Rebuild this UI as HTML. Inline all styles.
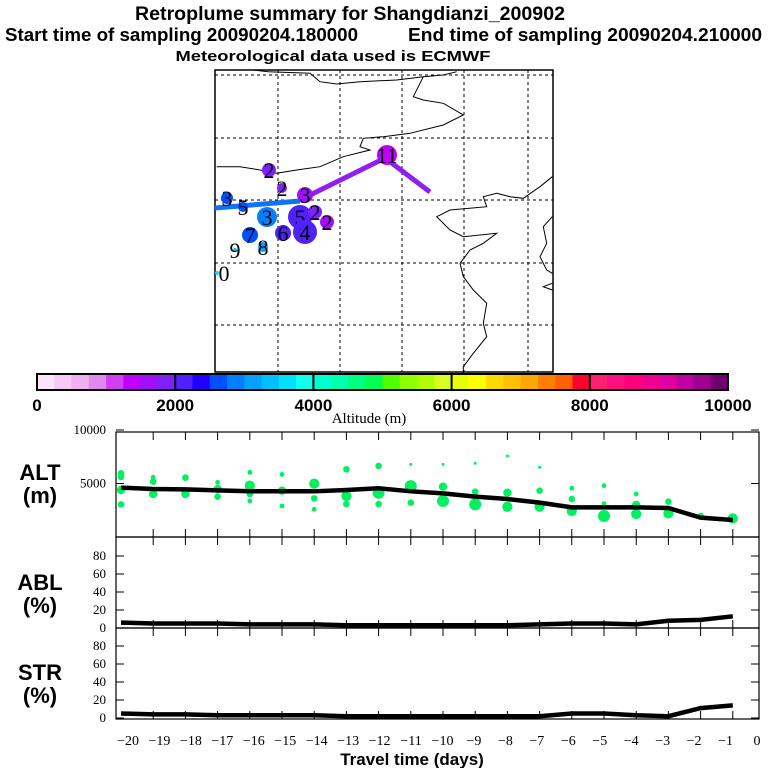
<!DOCTYPE html>
<html><head><meta charset="utf-8"><style>
body{margin:0;background:#fff}
svg{display:block;font-family:"Liberation Sans",sans-serif}
</style></head><body>
<svg id="chart" width="768" height="768" viewBox="0 0 768 768">
<g font-weight="bold" fill="#000">
<text x="350" y="20" font-size="19" text-anchor="middle" textLength="430" lengthAdjust="spacingAndGlyphs">Retroplume summary for Shangdianzi_200902</text>
<text x="5" y="41" font-size="18" textLength="353" lengthAdjust="spacingAndGlyphs">Start time of sampling 20090204.180000</text>
<text x="408" y="41" font-size="18" textLength="354" lengthAdjust="spacingAndGlyphs">End time of sampling 20090204.210000</text>
<text x="333" y="61" font-size="15" text-anchor="middle" textLength="315" lengthAdjust="spacingAndGlyphs">Meteorological data used is ECMWF</text>
</g>
<g id="map"></g>
<g id="cbar"></g>
<g id="panels"></g>
</svg>
<script>
const NS="http://www.w3.org/2000/svg";
function mk(tag,attrs,parent){const e=document.createElementNS(NS,tag);for(const k in attrs)e.setAttribute(k,attrs[k]);parent.appendChild(e);return e;}

// ---------- colour scale ----------
const colorbarColors=["#fde4fa","#f5c8f5","#f0b0f0","#e088f0","#d040f0","#c000ff","#a010f8","#8020ff",
"#5020ff","#2000ff","#0050ff","#0080ff","#00a0ff","#00c0ff","#00e0ff","#10fff0",
"#00ffd0","#00ffb0","#00ff80","#00ff50","#50ff00","#90ff00","#b0ff00","#d8ff20",
"#e8ff00","#ffff00","#ffd800","#ffc000","#ffa800","#ff8000","#ff6000","#ff0030",
"#ff2070","#ff1080","#ff0080","#f00090","#e000a0","#c000a0","#a00090","#700070"];
const colorbarTicks=[0,2000,4000,6000,8000,10000];

// ---------- map data ----------
const mapLonTicks=[0,1,2,3,4];
const mapLatTicks=[0,1,2,3,4];
const plumeLabels=["2","2","3","3","5","3","7","8","9","0","5","4","6","2","2","11"];
const plumeLon=[269,282,305,227,243,267,250,263,235,217,300,305,283,315,327,387];
const plumeLat=[170,188,195,198,207,217,235,247,250,273,217,232,233,212,222,155];
const plumeSize=[7,5,8,6,5,10,8,5,2,2,12,12,8,7,7,10];
const plumeAlt=[1900,1900,1600,2700,2700,2900,2600,3000,3300,3500,2100,2200,2100,1800,1700,1400];

// ---------- time panels data ----------
const days=[-20,-19,-18,-17,-16,-15,-14,-13,-12,-11,-10,-9,-8,-7,-6,-5,-4,-3,-2,-1];
const altMean=[4610,4490,4455,4360,4270,4270,4270,4390,4550,4270,4080,3770,3550,3210,2770,2770,2770,2710,1810,1590];
const ablPct=[6,5,5,5,4,4,4,3,3,3,3,3,3,4,5,5,4,8,9,13];
const strPct=[5,4,4,3,3,3,3,2,2,2,2,2,2,2,5,5,3,2,11,14];
const dotDay=[-20,-20,-20,-20,-19,-19,-19,-18,-18,-17,-17,-17,-16,-16,-16,-16,-15,-15,-15,-14,-14,-14,-13,-13,-13,-12,-12,-12,-11,-11,-11,-10,-10,-10,-9,-9,-9,-8,-8,-8,-7,-7,-7,-6,-6,-6,-5,-5,-5,-4,-4,-4,-3,-3,-2,-1];
const dotAlt=[5950,5600,4390,3050,5580,5170,4020,5550,4020,5110,4480,3770,6040,4800,4020,3370,5850,4330,2900,4990,3610,2590,6330,3830,3080,6640,4140,3080,6790,4760,3210,6790,4700,3370,6890,4240,3050,7570,4140,2830,6520,4330,2830,4550,3550,2430,4800,3120,1960,4020,3000,2150,3300,2210,1960,1740];
const dotSize=[3,3,4,3,2,3,4,3,4,2,4,3,2,5,3,2,2,4,2,5,3,2,3,5,3,3,6,3,1,6,3,1,4,6,1,3,6,1,4,5,1,3,5,2,3,5,2,2,6,2,4,5,3,5,3,5];
const xTickLabels=["-20","-19","-18","-17","-16","-15","-14","-13","-12","-11","-10","-9","-8","-7","-6","-5","-4","-3","-2","-1","0"];
const altTicks=[0,5000,10000];
const pctTicks=[0,20,40,60,80];

// ---------- map ----------
const map=document.getElementById('map');
const MX0=215,MX1=553,MY0=70,MY1=372;
const gx=[278,340,402,464,528], gy=[75,138,200,263,325];
mapLonTicks.forEach(i=>{const l=mk('line',{x1:gx[i],x2:gx[i],y1:MY0,y2:MY1,stroke:'#000','stroke-width':1,'stroke-dasharray':'3,3'},map);
});
mapLatTicks.forEach(i=>{const l=mk('line',{x1:MX0,x2:MX1,y1:gy[i],y2:gy[i],stroke:'#000','stroke-width':1,'stroke-dasharray':'3,3'},map);
});
function zp(pts){return pts.map(p=>(p[0]/3+210).toFixed(1)+','+(p[1]/3+70).toFixed(1)).join(' ');}
const coasts=[
[[130,0],[175,5],[300,10],[330,35],[380,42],[450,35],[560,30],[640,20],[700,15],[740,5]],
[[640,20],[610,80],[640,90],[700,100],[760,135],[700,165],[600,190],[520,200],[460,205],[450,230],[480,240],[400,260],[330,290],[260,300],[200,310],[150,300],[90,290],[20,290]],
[[1027,320],[990,350],[940,385],[900,380],[860,370],[820,380],[830,410],[720,420],[680,440],[720,480],[760,500],[860,490],[820,520],[780,540],[750,580],[760,620],[790,660],[830,700],[820,760],[830,800],[790,850],[760,890],[760,930]],
[[1027,440],[1000,470],[1010,520],[990,560],[1010,600],[1027,610]],
[[1027,640],[1000,650],[1027,660]]];
coasts.forEach(c=>{const p=mk('polyline',{points:zp(c),fill:'none',stroke:'#000','stroke-width':1},map);
});
const fr=mk('rect',{x:MX0,y:MY0,width:MX1-MX0,height:MY1-MY0,fill:'none',stroke:'#000','stroke-width':1.5},map);

function altColor(a){return colorbarColors[Math.max(0,Math.min(39,Math.floor(a/250)))];}
const t1=mk('polyline',{points:'215,208 300,201',stroke:'#1070ff','stroke-width':5,fill:'none'},map);

const t2=mk('polyline',{points:'300,200 385,158 430,192',stroke:'#9020f0','stroke-width':5,fill:'none'},map);

plumeLabels.forEach((lab,i)=>{
  const c=mk('circle',{cx:plumeLon[i],cy:plumeLat[i],r:plumeSize[i],fill:altColor(plumeAlt[i])},map);
  
  const t=mk('text',{x:plumeLon[i]+(i==9?7:0),y:plumeLat[i]+8,'font-size':22,'text-anchor':'middle','font-family':'Liberation Serif, serif',fill:'#000'},map);
  t.textContent=lab;
});

// ---------- colorbar ----------
const cb=document.getElementById('cbar');
const CX0=37,CX1=728,CY0=374,CY1=390,cw=(CX1-CX0)/40;
colorbarColors.forEach((col,i)=>{const r=mk('rect',{x:CX0+i*cw,y:CY0,width:cw+0.5,height:CY1-CY0,fill:col},cb);
});
mk('rect',{x:CX0,y:CY0,width:CX1-CX0,height:CY1-CY0,fill:'none',stroke:'#000','stroke-width':2},cb);
colorbarTicks.forEach(v=>{const x=CX0+v/10000*(CX1-CX0);
 if(v>0&&v<10000)mk('line',{x1:x,x2:x,y1:CY0,y2:CY1,stroke:'#000','stroke-width':2},cb);
 const t=mk('text',{x:x,y:411,'font-size':17,'font-weight':'bold','text-anchor':'middle'},cb);
 t.textContent=v;});
const at=mk('text',{x:369,y:423,'font-size':15,'text-anchor':'middle','font-family':'Liberation Serif, serif'},cb);
at.textContent='Altitude (m)';

// ---------- panels ----------
const P=document.getElementById('panels');
const PX0=116,PX1=759;
function X(d){return 121+(d+20)*32.2;}
function yAlt(a){return 537-a/10000*107;}
function yAbl(p){return 628-p*0.9;}
function yStr(p){return 718-p*0.9;}
[[432,537,'alt-panel-frame'],[537,628,'abl-panel-frame'],[628,719,'str-panel-frame']].forEach(f=>{
 const r=mk('rect',{x:PX0,y:f[0],width:PX1-PX0,height:f[1]-f[0],fill:'none',stroke:'#000','stroke-width':1.2},P);
 
 days.slice(1).forEach(d=>{mk('line',{x1:X(d),x2:X(d),y1:f[0],y2:f[0]+8,stroke:'#000'},P);mk('line',{x1:X(d),x2:X(d),y1:f[1],y2:f[1]-8,stroke:'#000'},P);});
});
function ytext(x,y,s,name){const t=mk('text',{x:x,y:y+4,'font-size':13,'text-anchor':'end','font-family':'Liberation Serif, serif'},P);t.textContent=s;}
altTicks.forEach(v=>{if(v>0)ytext(106,yAlt(v),v,'alt-tick-label');mk('line',{x1:PX1-8,x2:PX1,y1:yAlt(v),y2:yAlt(v),stroke:'#000'},P);mk('line',{x1:PX0,x2:PX0+8,y1:yAlt(v),y2:yAlt(v),stroke:'#000'},P);});
pctTicks.forEach(v=>{ytext(106,yAbl(v),v,'abl-tick-label');ytext(106,yStr(v),v,'str-tick-label');
 [yAbl(v),yStr(v)].forEach(y=>{mk('line',{x1:PX1-8,x2:PX1,y1:y,y2:y,stroke:'#000'},P);mk('line',{x1:PX0,x2:PX0+8,y1:y,y2:y,stroke:'#000'},P);});});
[['ALT','(m)',480,'alt-title'],['ABL','(%)',590,'abl-title'],['STR','(%)',680,'str-title']].forEach(p=>{
 const a=mk('text',{x:40,y:p[2],'font-size':22,'font-weight':'bold','text-anchor':'middle'},P);a.textContent=p[0];
 const b=mk('text',{x:40,y:p[2]+23,'font-size':22,'font-weight':'bold','text-anchor':'middle'},P);b.textContent=p[1];});
dotDay.forEach((d,i)=>{const c=mk('circle',{cx:X(d),cy:yAlt(dotAlt[i]),r:dotSize[i]*0.9+0.6,fill:'#00f060'},P);
 });
function line(vals,fy,name){const l=mk('polyline',{points:days.map((d,i)=>X(d)+','+fy(vals[i])).join(' '),fill:'none',stroke:'#000','stroke-width':4.5},P);
 }
line(altMean,yAlt,'alt-mean-line');line(ablPct,yAbl,'abl-line');line(strPct,yStr,'str-line');
xTickLabels.forEach((s,i)=>{const t=mk('text',{x:128+i*31.45,y:745,'font-size':14,'text-anchor':'middle','font-family':'Liberation Serif, serif'},P);
 t.textContent=s.replace('-','\u2212');});
const xt=mk('text',{x:412,y:765,'font-size':17,'font-weight':'bold','text-anchor':'middle'},P);
xt.textContent='Travel time (days)';
</script>
</body></html>
